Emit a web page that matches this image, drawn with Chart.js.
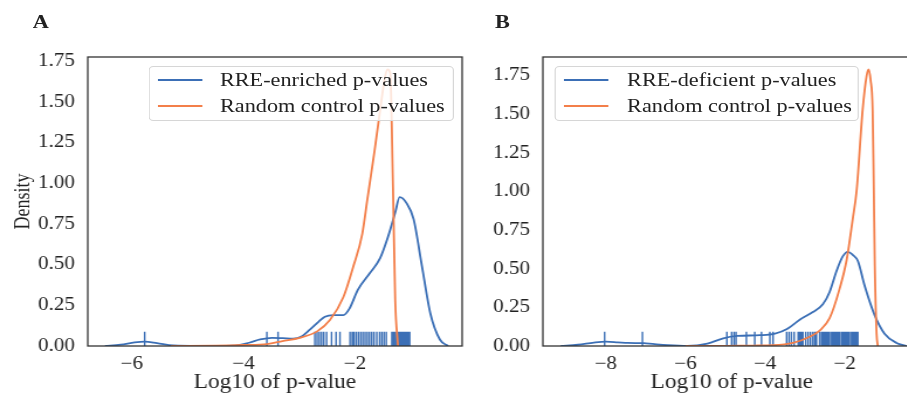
<!DOCTYPE html>
<html>
<head>
<meta charset="utf-8">
<script src="https://cdn.jsdelivr.net/npm/chart.js@4.4.1/dist/chart.umd.min.js"></script>
<style>
html, body { margin: 0; padding: 0; background: #fff; overflow: hidden; }
/* the reference is a bit wider than tall, so the whole figure is stretched sideways */
#stage { position: absolute; left: 0; top: 0; width: 775px; height: 397px;
         transform: scaleX(1.17); transform-origin: 0 0;
         font-family: "Liberation Serif", "Times New Roman", serif; color: #222; }
canvas { position: absolute; top: 0; }
.tag { position: absolute; top: 11px; font-weight: bold; font-size: 19px; }
.legend { position: absolute; top: 66px; height: 55px; border: 1px solid #d6d6d6; border-radius: 4px;
          background: rgba(255,255,255,0.8); box-sizing: border-box; }
.legend .row { position: absolute; left: 0; right: 0; height: 26px; }
.legend .swatch { position: absolute; left: 7px; top: 12px; width: 38px; height: 2px; }
.legend .label { position: absolute; top: 0; line-height: 26px; font-size: 19px; white-space: nowrap; }
</style>
</head>
<body>
<div id="stage">
  <canvas id="chartA" width="400" height="397" style="left:0"></canvas>
  <canvas id="chartB" width="395" height="397" style="left:400px"></canvas>
  <div class="tag" style="left:28px">A</div>
  <div class="tag" style="left:423px">B</div>
  <div class="legend" style="left:127px; width:261px">
    <div class="row" style="top:0"><span class="swatch" style="background:#3b6fb6"></span><span class="label" style="left:60px">RRE-enriched p-values</span></div>
    <div class="row" style="top:26px"><span class="swatch" style="background:#f37f4a"></span><span class="label" style="left:60px">Random control p-values</span></div>
  </div>
  <div class="legend" style="left:474px; width:260px">
    <div class="row" style="top:0"><span class="swatch" style="background:#3b6fb6"></span><span class="label" style="left:61px">RRE-deficient p-values</span></div>
    <div class="row" style="top:26px"><span class="swatch" style="background:#f37f4a"></span><span class="label" style="left:61px">Random control p-values</span></div>
  </div>
</div>
<script>
const BLUE = '#3b6fb6';
const ORANGE = '#f37f4a';

// panel A: RRE-enriched density vs random control
const enrichedX = [-6.48, -6.2, -5.95, -5.77, -5.55, -5.26, -4.8, -4.19, -3.9, -3.7, -3.49, -3.3, -3.11, -2.95, -2.81, -2.65, -2.54, -2.39, -2.21, -2.1, -1.95, -1.73, -1.55, -1.41, -1.28, -1.2, -1.08, -0.95, -0.8, -0.65, -0.48, -0.33];
const enrichedY = [0, 0.008, 0.022, 0.027, 0.018, 0.003, 0, 0.002, 0.02, 0.04, 0.05, 0.048, 0.045, 0.06, 0.1, 0.15, 0.18, 0.19, 0.19, 0.23, 0.345, 0.45, 0.54, 0.67, 0.82, 0.915, 0.88, 0.78, 0.49, 0.2, 0.04, 0];
const controlAX = [-5.3, -4.5, -4.0, -3.58, -3.3, -2.99, -2.68, -2.45, -2.21, -2.03, -1.87, -1.78, -1.65, -1.55, -1.47, -1.42, -1.37, -1.32, -1.28, -1.23];
const controlAY = [0, 0.002, 0.006, 0.012, 0.03, 0.05, 0.09, 0.16, 0.3, 0.49, 0.69, 0.9, 1.2, 1.45, 1.64, 1.7, 1.68, 0.98, 0.28, 0];
const enrichedRug = [-5.77, -3.58, -3.38, -2.72, -2.68, -2.64, -2.6, -2.56, -2.51, -2.42, -2.34, -2.27, -2.09, -2.05, -2.02, -1.98, -1.94, -1.9, -1.86, -1.82, -1.78, -1.74, -1.7, -1.66, -1.61, -1.56, -1.52, -1.48, -1.44, -1.34, -1.31, -1.28, -1.25, -1.22, -1.2, -1.18, -1.16, -1.14, -1.12, -1.1, -1.08, -1.06, -1.04, -1.02];

// panel B: RRE-deficient density vs random control
const deficientX = [-9.13, -8.7, -8.3, -8.0, -7.7, -7.45, -7.05, -6.45, -5.95, -5.45, -5.05, -4.7, -4.13, -3.75, -3.45, -3.13, -2.8, -2.55, -2.38, -2.2, -2.05, -1.92, -1.8, -1.67, -1.5, -1.25, -1.0, -0.7, -0.45];
const deficientY = [0, 0.008, 0.022, 0.028, 0.024, 0.02, 0.018, 0.005, 0, 0.015, 0.05, 0.065, 0.07, 0.08, 0.11, 0.17, 0.22, 0.27, 0.35, 0.49, 0.58, 0.61, 0.59, 0.55, 0.39, 0.2, 0.08, 0.02, 0];
const controlBX = [-6.0, -5.0, -4.3, -3.8, -3.3, -2.88, -2.63, -2.38, -2.13, -1.95, -1.8, -1.7, -1.55, -1.45, -1.4, -1.35, -1.3, -1.27, -1.245, -1.2, -1.17];
const controlBY = [0, 0.001, 0.003, 0.005, 0.02, 0.06, 0.1, 0.18, 0.37, 0.56, 0.82, 1.01, 1.53, 1.75, 1.79, 1.72, 1.53, 1.01, 0.52, 0.08, 0];
const deficientRug = [-8.03, -7.08, -4.96, -4.84, -4.78, -4.73, -4.47, -4.26, -4.09, -3.88, -3.8, -3.46, -3.4, -3.34, -3.27, -3.17, -3.13, -3.09, -3.05, -2.98, -2.92, -2.86, -2.8, -2.75, -2.71, -2.63, -2.58, -2.54, -2.5, -2.46, -2.42, -2.38, -2.33, -2.29, -2.25, -2.21, -2.17, -2.13, -2.08, -2.04, -2.0, -1.96, -1.92, -1.88, -1.83, -1.79, -1.75, -1.71, -1.67];

const yTicks = [0, 0.25, 0.5, 0.75, 1, 1.25, 1.5, 1.75];
const xTicksA = [-6, -4, -2];
const xTicksB = [-8, -6, -4, -2];

Chart.defaults.font.family = '"Liberation Serif", "Times New Roman", serif';
Chart.defaults.color = '#222';

function toPts(xs, ys) {
    return xs.map((x, i) => ({ x: x, y: ys[i] }));
}

// each rug mark is a short vertical segment, broken from the next by a null
function rugPts(xs, h) {
    const out = [];
    xs.forEach(x => { out.push({ x: x, y: 0 }, { x: x, y: h }, { x: x, y: null }); });
    return out;
}

const frame = {
    id: 'frame',
    afterDatasetsDraw(chart) {
        const a = chart.chartArea, ctx = chart.ctx;
        ctx.save();
        ctx.strokeStyle = '#333';
        ctx.lineWidth = 1.3;
        ctx.strokeRect(a.left, a.top, a.right - a.left, a.bottom - a.top);
        ctx.restore();
    }
};

function minus(v) {
    return v < 0 ? '\u2212' + Math.abs(v) : String(v);
}

function makePanel(id, p) {
    return new Chart(document.getElementById(id), {
        type: 'line',
        data: {
            datasets: [
                { data: toPts(p.ctrlX, p.ctrlY), borderColor: ORANGE, borderWidth: 1.8, pointRadius: 0, cubicInterpolationMode: 'monotone', order: 0 },
                { data: rugPts(p.rug, p.rugH), borderColor: BLUE, borderWidth: 1.4, pointRadius: 0, tension: 0, spanGaps: false, order: 1 },
                { data: toPts(p.kdeX, p.kdeY), borderColor: BLUE, borderWidth: 1.8, pointRadius: 0, cubicInterpolationMode: 'monotone', order: 2 }
            ]
        },
        options: {
            responsive: false,
            animation: false,
            layout: { padding: { top: 57, right: p.padRight, bottom: 0, left: 0 } },
            plugins: { legend: { display: false }, tooltip: { enabled: false } },
            scales: {
                x: {
                    type: 'linear', min: p.xMin, max: p.xMax,
                    grid: { display: false, drawTicks: false }, border: { display: false },
                    afterBuildTicks: ax => { ax.ticks = p.xTicks.map(v => ({ value: v })); },
                    afterFit: ax => { ax.height = 51; },
                    ticks: { font: { size: 18 }, padding: 7, maxRotation: 0, callback: v => minus(v) },
                    title: { display: true, text: 'Log10 of p-value', font: { size: 20 }, padding: { top: 0, bottom: 2 } }
                },
                y: {
                    min: 0, max: p.yMax,
                    grid: { display: false, drawTicks: false }, border: { display: false },
                    afterBuildTicks: ax => { ax.ticks = yTicks.map(v => ({ value: v })); },
                    afterFit: ax => { ax.width = p.yWidth; },
                    ticks: { font: { size: 18 }, padding: 11, callback: v => v.toFixed(2) },
                    title: { display: p.yTitle, text: 'Density', font: { size: 18 }, padding: { top: 9, bottom: 0 } }
                }
            }
        },
        plugins: [frame]
    });
}

makePanel('chartA', {
    kdeX: enrichedX, kdeY: enrichedY, ctrlX: controlAX, ctrlY: controlAY,
    rug: enrichedRug, rugH: 0.087,
    xMin: -6.79, xMax: -0.08, xTicks: xTicksA, yMax: 1.777,
    yWidth: 75, padRight: 5, yTitle: true
});

makePanel('chartB', {
    kdeX: deficientX, kdeY: deficientY, ctrlX: controlBX, ctrlY: controlBY,
    rug: deficientRug, rugH: 0.093,
    xMin: -9.58, xMax: -0.09, xTicks: xTicksB, yMax: 1.871,
    yWidth: 64, padRight: 8, yTitle: false
});
</script>
</body>
</html>
